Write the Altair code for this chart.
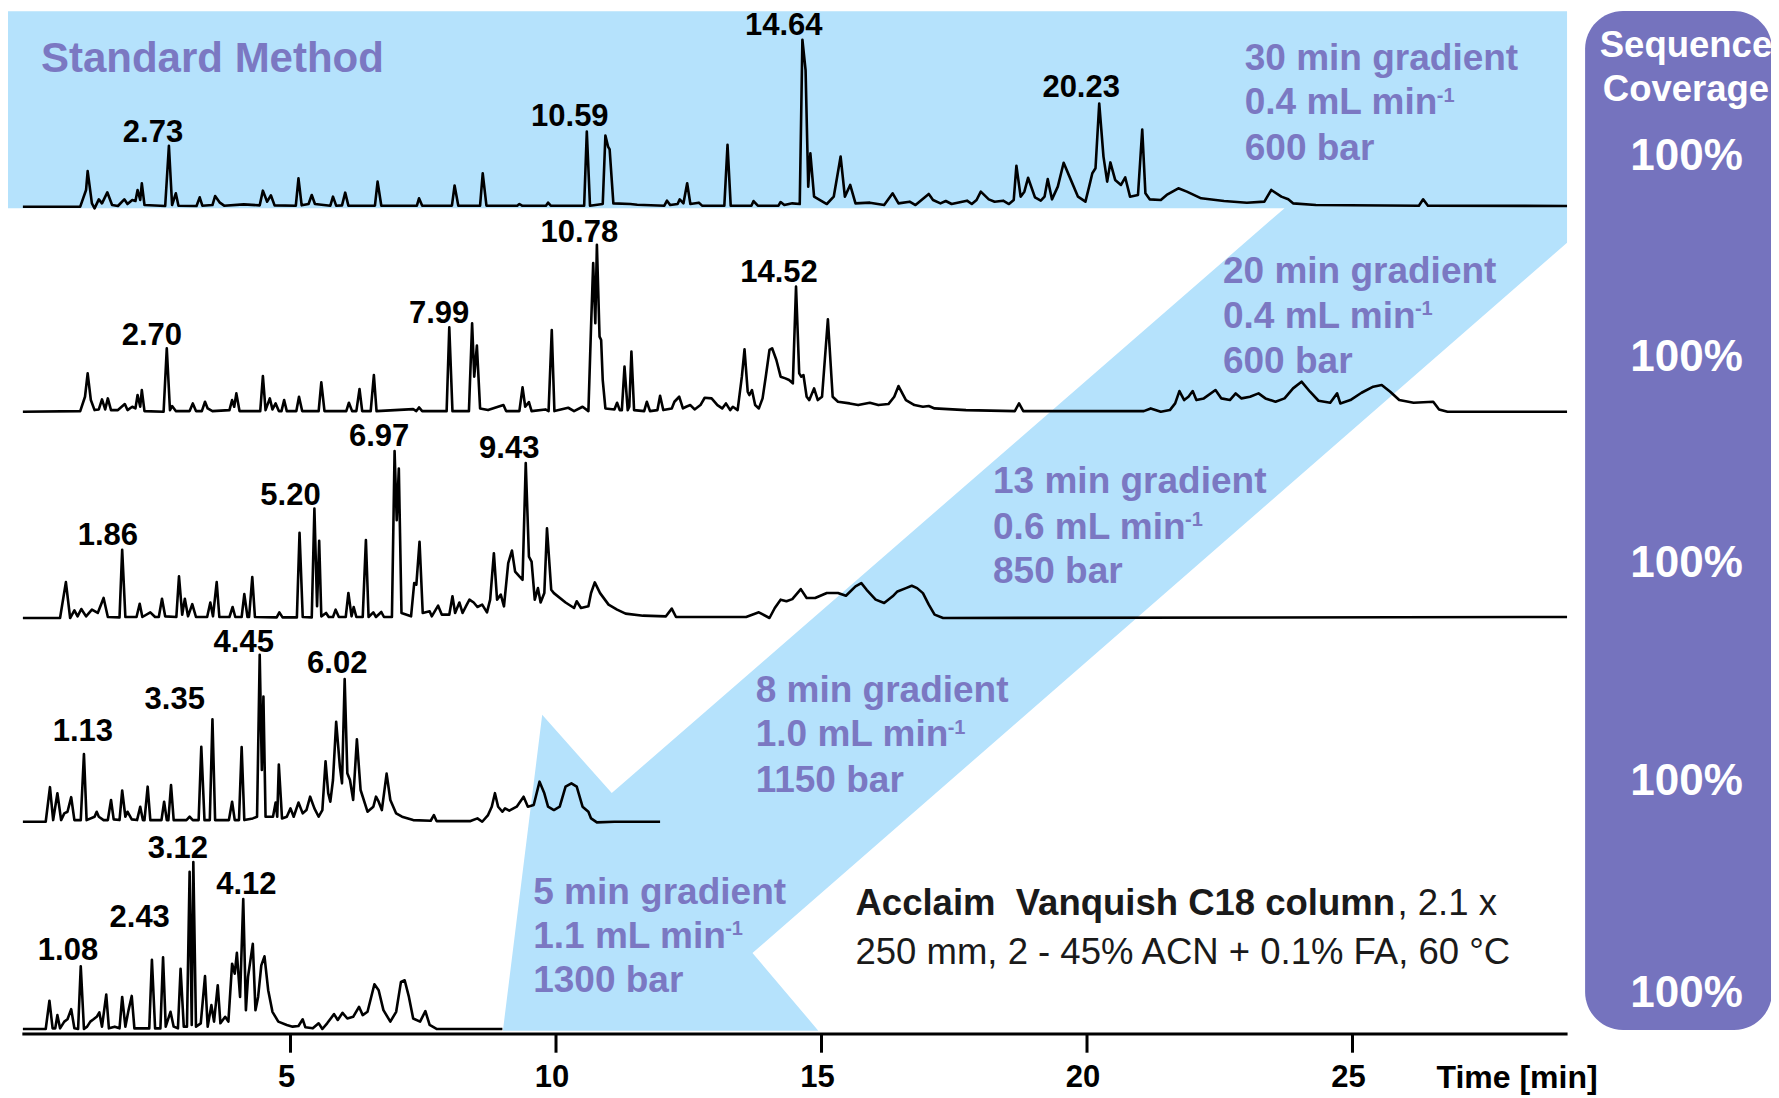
import altair as alt
import pandas as pd

FONT = "Liberation Sans"
BLUE = "#B5E2FC"
PURPLE_BOX = "#7573BE"
PURPLE_TXT = "#7B78C2"

# ---------------- chromatogram vertices (time [min], relative intensity %) ----------------
trace_30min = [(-0.04,0),(1.04,0),(1.15,10),(1.18,21.3),(1.26,2),(1.31,-1),(1.39,4.4),(1.45,2),(1.55,8.6),(1.64,1),(1.75,0.4),(1.87,4.4),(1.93,1.6),(2.02,4),(2.08,3.4),(2.12,10),(2.17,4),(2.20,14),(2.25,1),(2.64,0.4),(2.71,36.5),(2.77,1),(2.84,8),(2.89,0.6),(3.23,0.4),(3.29,5.6),(3.34,0.6),(3.53,1),(3.58,6.4),(3.67,2.4),(3.75,0.6),(4.12,1.4),(4.42,0.8),(4.48,9.6),(4.56,3),(4.63,6.8),(4.70,0.8),(5.10,0.6),(5.15,17),(5.21,0.8),(5.34,1.6),(5.40,7),(5.46,1.6),(5.75,0.6),(5.80,6),(5.86,0.6),(5.97,0.8),(6.03,8.4),(6.09,0.6),(6.59,0.6),(6.64,15),(6.71,0.6),(7.38,0.6),(7.42,5),(7.48,0.6),(8.04,0.6),(8.09,12.7),(8.16,0.6),(8.57,0.6),(8.62,20),(8.69,0.6),(9.27,0.6),(9.31,1.6),(9.36,0.6),(9.81,0.6),(9.85,2.4),(9.90,0.6),(10.53,0.6),(10.58,45),(10.64,0.6),(10.88,1.6),(10.93,42.6),(10.98,36),(11.01,34.3),(11.08,2),(11.40,1.6),(11.53,1.2),(12.04,0.6),(12.09,3.6),(12.15,1),(12.29,1.6),(12.33,4.4),(12.40,2),(12.47,14),(12.53,1.6),(12.69,2.4),(12.75,0.6),(13.17,0.6),(13.23,37),(13.29,0.6),(13.68,0.6),(13.72,3.4),(13.80,0.6),(14.19,0.6),(14.23,2.8),(14.30,1),(14.45,2),(14.59,1.6),(14.64,100),(14.70,81.7),(14.75,12),(14.79,31.9),(14.86,6),(15.10,1.6),(15.23,6),(15.29,17),(15.36,30),(15.44,6),(15.54,13),(15.64,2),(15.91,2.4),(16.18,1),(16.34,8),(16.45,2),(16.66,3),(16.77,1),(17.02,7.6),(17.10,4),(17.24,2),(17.34,3.4),(17.45,1.6),(17.74,3.6),(17.83,1.6),(17.92,4),(18.00,9),(18.15,4.4),(18.26,3),(18.42,3.6),(18.53,1.6),(18.62,4),(18.67,24.5),(18.75,6),(18.82,9),(18.89,17.3),(19.02,5.6),(19.13,3.6),(19.20,6),(19.26,16.5),(19.34,4.4),(19.45,12),(19.56,26.3),(19.67,18),(19.83,6),(19.97,3),(20.04,12),(20.10,20),(20.16,23),(20.23,61.8),(20.31,30),(20.38,15),(20.44,26.5),(20.53,16),(20.64,13),(20.72,17.5),(20.81,6),(20.96,7),(21.04,46.2),(21.10,8),(21.18,4.4),(21.39,4),(21.50,7),(21.72,11),(21.88,9),(22.15,5),(22.58,3.4),(23.01,2.4),(23.34,3),(23.47,10),(23.66,6),(23.79,4.4),(23.88,2),(24.31,1),(26.25,0.6),(26.33,4.4),(26.42,0.6),(29.04,0.4)]

trace_20min = [(-0.04,0),(1.04,0.4),(1.13,9),(1.18,23),(1.24,7),(1.31,1),(1.39,1.4),(1.45,7.4),(1.51,1.4),(1.56,8),(1.62,1),(1.75,1),(1.88,4.6),(1.93,1),(2.02,3),(2.08,2),(2.12,10),(2.17,3),(2.20,13),(2.25,0.4),(2.61,0),(2.67,38),(2.73,1),(2.77,3.4),(2.84,0.4),(3.10,0.4),(3.16,5),(3.22,0.4),(3.33,0.4),(3.39,6),(3.44,2),(3.53,0.4),(3.85,1),(3.90,7),(3.94,3),(3.98,11),(4.04,0.4),(4.43,0.4),(4.48,21.4),(4.53,1),(4.61,8),(4.66,1.4),(4.72,5),(4.78,0.4),(4.83,0.4),(4.88,7),(4.93,0.4),(5.11,0.4),(5.16,9),(5.22,0.4),(5.53,0.4),(5.58,17.6),(5.64,0.4),(6.05,0.4),(6.10,5.4),(6.16,0.4),(6.24,0.4),(6.30,13.6),(6.35,0.4),(6.51,0.4),(6.57,22),(6.62,0.4),(7.31,1.6),(7.37,0.4),(7.42,2.6),(7.48,0.4),(7.94,0.4),(7.99,50.6),(8.05,0.4),(8.36,0.4),(8.42,53),(8.46,21),(8.51,39.6),(8.57,2),(8.72,1),(9.01,4),(9.06,0.4),(9.31,0.4),(9.37,14.6),(9.42,3),(9.49,5.8),(9.54,0.4),(9.80,1.4),(9.86,0.4),(9.92,49),(9.97,0.4),(10.23,2.4),(10.34,0.4),(10.50,3),(10.61,0.4),(10.66,51),(10.70,89),(10.74,53),(10.77,100),(10.82,45),(10.85,43),(10.88,19),(10.93,2),(11.10,1.4),(11.15,5.4),(11.20,1),(11.24,1),(11.29,27),(11.35,1),(11.38,3),(11.42,36),(11.47,1),(11.66,0.4),(11.71,6),(11.77,0.4),(11.91,1),(11.96,9.6),(12.02,1),(12.18,2),(12.23,6),(12.32,9),(12.39,2),(12.45,3),(12.53,4),(12.61,1.4),(12.72,4),(12.80,8.4),(12.93,8),(13.04,4),(13.13,2),(13.20,5),(13.28,1),(13.33,3),(13.42,1),(13.50,21),(13.55,37.4),(13.61,12),(13.64,10),(13.69,13),(13.75,4),(13.82,2),(13.89,8),(13.95,21),(14.02,37),(14.07,38),(14.15,31),(14.23,21),(14.32,20),(14.39,19),(14.46,17),(14.52,75),(14.58,23),(14.62,21),(14.66,22),(14.72,9),(14.77,7),(14.86,14),(14.93,7),(15.01,9),(15.12,55.4),(15.21,9),(15.31,6),(15.53,5),(15.69,4),(15.91,5.4),(16.07,4),(16.26,4.6),(16.37,9),(16.45,15.4),(16.59,7),(16.75,4),(16.91,3),(17.02,3.4),(17.13,2),(17.72,1),(18.64,0.4),(18.72,5),(18.80,0.4),(21.07,0.4),(21.20,2),(21.39,0),(21.56,1),(21.66,5),(21.74,12.4),(21.83,7),(21.91,9),(21.99,12.4),(22.06,7),(22.20,8),(22.42,13),(22.53,8),(22.69,7),(22.80,11),(22.91,8),(23.07,9),(23.23,11),(23.36,8),(23.55,6),(23.72,8),(23.88,14),(24.04,18),(24.20,12),(24.36,6.6),(24.58,5.4),(24.71,11),(24.77,5),(24.96,7),(25.17,11.4),(25.39,15),(25.55,16),(25.71,12),(25.88,7),(26.15,5.4),(26.52,6),(26.63,1.4),(26.79,0),(29.04,0)]

trace_13min = [(-0.04,0),(0.66,0),(0.77,21.5),(0.85,0),(0.93,4.6),(0.99,1),(1.06,5.4),(1.15,1),(1.26,5),(1.37,3),(1.48,12),(1.56,0.6),(1.78,0.4),(1.83,40.8),(1.89,0.6),(2.10,0.6),(2.16,8.5),(2.21,0.6),(2.36,3.4),(2.45,0.6),(2.52,0.6),(2.58,11.5),(2.64,1),(2.85,0.6),(2.90,24.9),(2.96,2),(3.01,11.5),(3.07,1),(3.15,8.3),(3.22,0.6),(3.43,0.6),(3.49,9.3),(3.54,1),(3.61,21.5),(3.66,0.6),(3.85,0.6),(3.91,6.6),(3.96,0.6),(4.08,0.6),(4.13,14.3),(4.19,0.6),(4.22,0.6),(4.28,24.5),(4.33,0.6),(4.74,0.4),(4.79,3.4),(4.85,0.4),(5.12,0.4),(5.17,51),(5.23,0.6),(5.40,0.4),(5.45,65.6),(5.50,7),(5.54,46.3),(5.58,1),(5.67,3),(5.72,0.6),(5.80,0.6),(5.85,5),(5.91,0.6),(6.04,0.6),(6.09,15),(6.15,1),(6.19,6.6),(6.24,0.6),(6.36,0.6),(6.42,46.7),(6.47,0.6),(6.56,3.4),(6.61,0.6),(6.71,3.6),(6.76,0.6),(6.91,0.6),(6.96,100),(7.00,58.6),(7.04,89.5),(7.09,3),(7.27,1),(7.33,21),(7.37,20),(7.43,45.7),(7.49,3),(7.62,4),(7.66,1),(7.78,7.4),(7.85,2),(7.99,2),(8.05,13),(8.10,3),(8.18,9.3),(8.24,3),(8.31,7.4),(8.37,11),(8.45,9.3),(8.52,6.6),(8.61,8),(8.70,3.4),(8.76,11),(8.83,38.8),(8.89,11),(8.96,14),(9.02,7),(9.10,32.8),(9.17,40.4),(9.23,27.8),(9.31,24.9),(9.37,22.9),(9.43,92.8),(9.49,36.8),(9.54,33.8),(9.60,11),(9.66,17.9),(9.71,9.3),(9.78,15),(9.83,53.7),(9.91,16.9),(9.96,14.9),(10.18,9.3),(10.34,6),(10.39,10),(10.47,6),(10.61,7),(10.66,15),(10.73,21.3),(10.83,14.9),(10.99,8),(11.15,5),(11.31,2.6),(11.64,1.4),(12.07,1),(12.18,5.6),(12.26,0.6),(13.58,0.6),(13.82,3.4),(14.02,0),(14.12,6),(14.23,11),(14.34,10),(14.45,11.3),(14.61,17.3),(14.72,12),(14.88,12),(15.10,15),(15.31,15),(15.46,13.3),(15.64,18.9),(15.75,20.9),(15.85,16.9),(16.02,11),(16.18,9),(16.34,13),(16.43,15.9),(16.59,17.9),(16.70,19.3),(16.80,17.9),(16.91,14.9),(17.02,8),(17.13,2),(17.29,0),(29.04,0.6)]

trace_8min = [(-0.04,0),(0.39,0),(0.47,20.7),(0.53,1),(0.61,17.1),(0.68,1),(0.74,5),(0.80,6),(0.87,14.7),(0.93,1),(1.05,1),(1.11,40.6),(1.16,1),(1.31,3),(1.35,6),(1.39,3),(1.48,1),(1.56,1),(1.62,13),(1.67,1.4),(1.78,1),(1.83,18.7),(1.89,3),(1.93,6),(2.01,1.4),(2.11,1),(2.17,9),(2.22,1),(2.25,1),(2.31,21),(2.36,1),(2.57,1),(2.62,12),(2.67,1),(2.70,1),(2.75,22),(2.80,1),(3.04,1),(3.10,3),(3.16,1),(3.27,1),(3.32,44.9),(3.38,1),(3.48,1),(3.53,61.4),(3.58,1),(3.84,1),(3.90,12),(3.95,1),(4.03,1),(4.08,44.7),(4.13,1),(4.29,2),(4.37,3),(4.42,100),(4.46,31),(4.49,75),(4.53,3),(4.61,3),(4.67,3),(4.72,11.5),(4.75,3),(4.78,34.2),(4.84,2),(4.93,3),(5.00,8),(5.06,3),(5.15,11.5),(5.23,5),(5.30,7),(5.37,15),(5.45,8),(5.53,3),(5.60,7),(5.66,36.2),(5.71,17.1),(5.75,12),(5.80,25),(5.86,59.8),(5.93,33),(5.97,23),(6.02,85.5),(6.07,29),(6.12,25),(6.18,13),(6.25,49.3),(6.32,19),(6.45,6),(6.56,9),(6.61,15),(6.66,12),(6.72,7),(6.81,28.8),(6.88,13),(6.99,5),(7.10,3),(7.31,1),(7.64,0.6),(7.70,4),(7.75,0.4),(8.39,0.4),(8.52,2),(8.61,0),(8.72,4),(8.79,9),(8.85,17.1),(8.91,9),(8.99,6),(9.04,8),(9.12,6.6),(9.26,9),(9.39,15),(9.47,9),(9.58,10),(9.69,24),(9.78,17),(9.85,9),(9.96,7),(10.07,9),(10.18,21),(10.29,23),(10.39,21),(10.50,9),(10.61,6),(10.66,2),(10.77,-0.4),(11.10,0),(11.96,0)]

trace_5min = [(-0.04,0),(0.39,0),(0.46,16.9),(0.52,0.4),(0.57,0.4),(0.61,8.3),(0.66,0.4),(0.74,4.4),(0.80,5.8),(0.87,11.9),(0.93,0.4),(1.00,0),(1.05,37.5),(1.11,0),(1.17,1.4),(1.23,4.4),(1.29,5.8),(1.35,7.3),(1.40,9.9),(1.45,1.4),(1.53,20.6),(1.58,0.4),(1.69,1.4),(1.78,0.4),(1.83,19.2),(1.89,1.4),(1.95,11.3),(2.01,19.8),(2.06,0.4),(2.34,0.4),(2.39,41.5),(2.45,0.4),(2.55,0.4),(2.60,43),(2.65,1.4),(2.74,10.3),(2.80,1.4),(2.88,0.4),(2.93,36.1),(2.99,1.4),(3.05,1.4),(3.10,94.2),(3.14,2.4),(3.17,100),(3.22,1.4),(3.31,3.4),(3.39,31.7),(3.44,1.4),(3.51,14.3),(3.56,4.4),(3.63,26.2),(3.68,3.4),(3.77,7.3),(3.83,4.4),(3.90,39.1),(3.95,33.1),(3.99,45.6),(4.05,19.2),(4.11,77.8),(4.16,11.3),(4.20,31.2),(4.29,51),(4.34,11.3),(4.39,19.2),(4.45,38.1),(4.51,43.5),(4.58,23.2),(4.66,10.3),(4.77,4.4),(4.93,2.4),(5.04,1.4),(5.15,1.8),(5.23,5.8),(5.28,1),(5.42,0.4),(5.53,3.4),(5.60,0),(5.69,3.4),(5.82,8.9),(5.89,5.4),(5.98,9.7),(6.07,6.3),(6.18,7.3),(6.29,13.3),(6.36,8.3),(6.45,10.3),(6.58,26.8),(6.66,23.2),(6.75,11.3),(6.88,4.4),(6.99,10.3),(7.08,28.2),(7.15,29.2),(7.23,19.2),(7.31,6.3),(7.44,4.4),(7.54,10.7),(7.62,2.4),(7.75,0),(8.99,0)]

TRACES = [trace_30min, trace_20min, trace_13min, trace_8min, trace_5min]
TRACE_NAMES = ["30 min", "20 min", "13 min", "8 min", "5 min"]
BASELINES = [495.4, 372.6, 249.1, 127.1, 3.0]   # vertical stacking offsets

# ---------------- peak labels ----------------
peak_labels = ["2.73", "10.59", "14.64", "20.23",
               "2.70", "7.99", "10.78", "14.52",
               "1.86", "5.20", "6.97", "9.43",
               "1.13", "3.35", "4.45", "6.02",
               "1.08", "2.43", "3.12", "4.12"]
peak_label_t = [2.41, 10.26, 14.29, 19.89,
                2.39, 7.80, 10.44, 14.20,
                1.56, 5.00, 6.67, 9.12,
                1.09, 2.82, 4.12, 5.88,
                0.81, 2.16, 2.88, 4.17]
peak_label_v = [539.7, 549.2, 603.5, 566.2,
                418.1, 431.0, 479.9, 455.4,
                298.5, 322.3, 357.6, 350.1,
                181.0, 200.0, 233.9, 221.7,
                49.8, 69.5, 111.0, 89.2]

# ---------------- method annotations ----------------
method_lines = [["30 min gradient", "0.4 mL min", "600 bar"],
                ["20 min gradient", "0.4 mL min", "600 bar"],
                ["13 min gradient", "0.6 mL min", "850 bar"],
                ["8 min gradient", "1.0 mL min", "1150 bar"],
                ["5 min gradient", "1.1 mL min", "1300 bar"]]
method_t = [22.97, 22.56, 18.23, 13.76, 9.57]
method_v = [[583.8, 557.3, 530.2],
            [456.1, 429.6, 402.5],
            [330.4, 303.2, 276.8],
            [205.4, 178.9, 151.7],
            [84.4, 58.0, 31.5]]

coverage_values = ["100%", "100%", "100%", "100%", "100%"]
coverage_v = [525.4, 404.5, 281.4, 151.1, 24.0]

# light-blue background + arrow outline (time, stacked-intensity units)
band_t = [-0.321, 29.04, 29.04, 13.70, 14.94, 9.00, 9.74, 11.05, 23.72, -0.321]
band_v = [612.4, 612.4, 473.8, 48.5, 2.0, 2.0, 191.1, 144.3, 494.5, 494.5]

TICKS = [5, 10, 15, 20, 25]

# ---------------- scales ----------------
W, H = 1763, 1090
xscale = alt.Scale(domain=[-0.3202, 32.881], nice=False, zero=False)
yscale = alt.Scale(domain=[-38.32, 614.37], nice=False, zero=False)


def X(field="t"):
    return alt.X(f"{field}:Q", scale=xscale, axis=None)


def Y(field="v"):
    return alt.Y(f"{field}:Q", scale=yscale, axis=None)


# ---------------- data frames ----------------
rows = []
for name, base, pts in zip(TRACE_NAMES, BASELINES, TRACES):
    for i, (t, h) in enumerate(pts):
        rows.append({"trace": name, "i": i, "t": t, "v": base + h})
traces_df = pd.DataFrame(rows)

band_df = pd.DataFrame({"i": list(range(len(band_t))), "t": band_t, "v": band_v})

peaks_df = pd.DataFrame({"t": peak_label_t, "v": peak_label_v, "label": peak_labels})

mrows, srows = [], []
for lines, t, vs in zip(method_lines, method_t, method_v):
    for txt, v in zip(lines, vs):
        mrows.append({"t": t, "v": v, "label": txt})
    srows.append({"t": t, "v": vs[1] + 4.6, "label": "-1"})
method_df = pd.DataFrame(mrows)
sup_df = pd.DataFrame(srows)

box_df = pd.DataFrame({"t": [29.38], "t2": [32.90], "v": [2.4], "v2": [612.6]})
cov_df = pd.DataFrame({"t": [31.29] * 5, "v": coverage_v, "label": coverage_values})
covtitle_df = pd.DataFrame({"t": [31.28, 31.28], "v": [591.6, 565.0], "label": ["Sequence", "Coverage"]})

axis_df = pd.DataFrame({"t": [-0.05], "t2": [29.05], "v": [0.0]})
ticks_df = pd.DataFrame({"t": TICKS, "v": [0.0] * len(TICKS), "v2": [-11.2] * len(TICKS),
                         "label": [str(k) for k in TICKS], "lv": [-26.3] * len(TICKS)})

# ---------------- layers ----------------
band = alt.Chart(band_df).mark_line(filled=True, fill=BLUE, color=BLUE, strokeWidth=0).encode(
    x=X(), y=Y(), order="i:Q")

box = alt.Chart(box_df).mark_rect(color=PURPLE_BOX, cornerRadius=38).encode(
    x=X(), x2="t2:Q", y=Y(), y2="v2:Q")

traces = alt.Chart(traces_df).mark_line(color="black", strokeWidth=2.6, strokeJoin="round").encode(
    x=X(), y=Y(), detail="trace:N", order="i:Q")

axis_line = alt.Chart(axis_df).mark_rule(color="black", strokeWidth=3).encode(
    x=X(), x2="t2:Q", y=Y())

tick_marks = alt.Chart(ticks_df).mark_rule(color="black", strokeWidth=3).encode(
    x=X(), y=Y(), y2="v2:Q")

tick_labels = alt.Chart(ticks_df).mark_text(font=FONT, fontSize=31, fontWeight="bold", color="black",
                                            align="center", baseline="middle", dx=-4).encode(
    x=X(), y=Y("lv"), text="label:N")

peaks = alt.Chart(peaks_df).mark_text(font=FONT, fontSize=31, fontWeight="bold", color="black",
                                      align="center", baseline="middle").encode(
    x=X(), y=Y(), text="label:N")

methods = alt.Chart(method_df).mark_text(font=FONT, fontSize=37, fontWeight="bold", color=PURPLE_TXT,
                                         align="left", baseline="middle").encode(
    x=X(), y=Y(), text="label:N")

sups = alt.Chart(sup_df).mark_text(font=FONT, fontSize=20, fontWeight="bold", color=PURPLE_TXT,
                                   align="left", baseline="middle", dx=192).encode(
    x=X(), y=Y(), text="label:N")

std_title = alt.Chart(pd.DataFrame({"t": [0.30], "v": [583.8], "label": ["Standard Method"]})).mark_text(
    font=FONT, fontSize=42, fontWeight="bold", color=PURPLE_TXT, align="left", baseline="middle").encode(
    x=X(), y=Y(), text="label:N")

col_bold = alt.Chart(pd.DataFrame({"t": [15.64], "v": [77.7],
                                   "label": ["Acclaim\u00a0 Vanquish C18 column"]})).mark_text(
    font=FONT, fontSize=36.5, fontWeight="bold", color="#1a1a1a", align="left", baseline="middle").encode(
    x=X(), y=Y(), text="label:N")

col_reg1 = alt.Chart(pd.DataFrame({"t": [15.64], "v": [77.7], "label": [", 2.1 x"]})).mark_text(
    font=FONT, fontSize=36.5, color="#1a1a1a", align="left", baseline="middle", dx=542).encode(
    x=X(), y=Y(), text="label:N")

col_reg2 = alt.Chart(pd.DataFrame({"t": [15.64], "v": [48.5],
                                   "label": ["250 mm, 2 - 45% ACN + 0.1% FA, 60 \u00b0C"]})).mark_text(
    font=FONT, fontSize=36.5, color="#1a1a1a", align="left", baseline="middle").encode(
    x=X(), y=Y(), text="label:N")

cov_title = alt.Chart(covtitle_df).mark_text(font=FONT, fontSize=36.5, fontWeight="bold", color="white",
                                             align="center", baseline="middle").encode(
    x=X(), y=Y(), text="label:N")

cov = alt.Chart(cov_df).mark_text(font=FONT, fontSize=44, fontWeight="bold", color="white",
                                  align="center", baseline="middle").encode(
    x=X(), y=Y(), text="label:N")

time_title = alt.Chart(pd.DataFrame({"t": [26.58], "v": [-26.3], "label": ["Time [min]"]})).mark_text(
    font=FONT, fontSize=32, fontWeight="bold", color="black", align="left", baseline="middle").encode(
    x=X(), y=Y(), text="label:N")

chart = alt.layer(
    band, box, traces, axis_line, tick_marks, tick_labels, peaks, methods, sups, std_title,
    col_bold, col_reg1, col_reg2, cov_title, cov, time_title
).properties(
    width=W, height=H, padding=0,
    autosize=alt.AutoSizeParams(type="none"),
    background="white",
).configure_view(strokeWidth=0)

chart.save("out.html", embed_options={"renderer": "svg", "actions": False})
